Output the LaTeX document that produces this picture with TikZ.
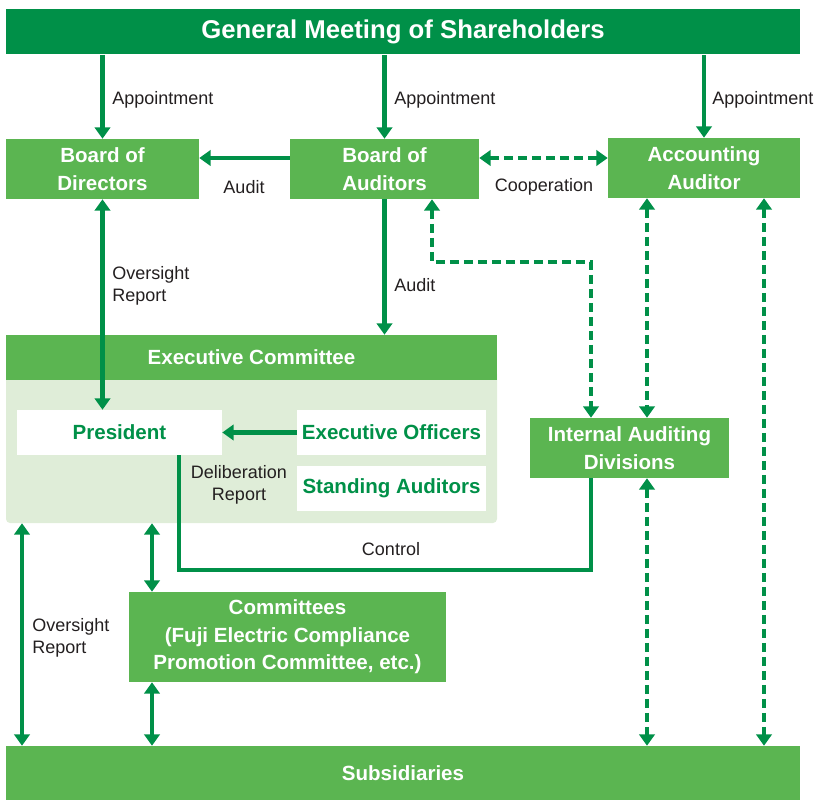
\documentclass[tikz,border=0pt]{standalone}
\usepackage{fontspec}
\setmainfont{Liberation Sans}
\usetikzlibrary{arrows.meta,calc}
\definecolor{dgreen}{RGB}{0,144,72}
\definecolor{lgreen}{RGB}{91,181,81}
\definecolor{pale}{RGB}{223,237,216}
\definecolor{txt}{RGB}{35,31,32}
\begin{document}
\begin{tikzpicture}[x=0.75pt,y=-0.75pt,
  gbox/.style={fill=lgreen,text=white,font=\fontsize{15.4}{20.5}\selectfont\bfseries,align=center,inner sep=0pt},
  wbox/.style={fill=white,text=dgreen,font=\fontsize{15.4}{20.5}\selectfont\bfseries,align=center,inner sep=0pt},
  lbl/.style={text=txt,font=\fontsize{13.5}{16.5}\selectfont,inner sep=0pt},
  ln/.style={draw=dgreen,line width=3.4pt},
  arr/.style={ln,-{Triangle[width=11.5pt,length=8.5pt]}},
  arrtwo/.style={ln,{Triangle[width=11.5pt,length=8.5pt]}-{Triangle[width=11.5pt,length=8.5pt]}},
  darrtwo/.style={arrtwo,dash pattern=on 7pt off 3.5pt}]
\useasboundingbox (0,0) rectangle (818,802);
% nodes
\node[fill=dgreen,text=white,font=\fontsize{19.3}{23}\selectfont\bfseries,minimum width=595.5pt,minimum height=33.75pt,inner sep=0pt] (gm) at (403,32) {General Meeting of Shareholders};
\node[gbox,minimum width=144.75pt,minimum height=45pt] (bod) at (102.5,169) {Board of\\Directors};
\node[gbox,minimum width=141.75pt,minimum height=45pt] (boa) at (384.5,169) {Board of\\Auditors};
\node[gbox,minimum width=144pt,minimum height=45pt] (aa) at (704,168) {Accounting\\Auditor};
\node[fill=pale,rounded corners=3pt,minimum width=368.25pt,minimum height=114.75pt,inner sep=0pt] (ecb) at (251.5,446.5) {};
\node[gbox,minimum width=368.25pt,minimum height=33.75pt] (ech) at (251.5,357.5) {Executive Committee};
\node[wbox,minimum width=153.75pt,minimum height=33.75pt] (pres) at (119.5,432.5) {President};
\node[wbox,minimum width=141.75pt,minimum height=33.75pt] (eo) at (391.5,432.5) {Executive Officers};
\node[wbox,minimum width=141.75pt,minimum height=33.75pt] (sa) at (391.5,488.5) {Standing Auditors};
\node[gbox,minimum width=149.25pt,minimum height=45pt] (iad) at (629.5,448) {Internal Auditing\\Divisions};
\node[gbox,minimum width=237.75pt,minimum height=67.5pt] (com) at (287.5,637) {Committees\\(Fuji Electric Compliance\\Promotion Committee, etc.)};
\node[gbox,minimum width=595.5pt,minimum height=40.5pt] (sub) at (403,773) {Subsidiaries};
% labels
\node[lbl,anchor=west] (l1) at (112,99.5) {Appointment};
\node[lbl,anchor=west] (l2) at (394,99.5) {Appointment};
\node[lbl,anchor=west] (l3) at (712,99.5) {Appointment};
\node[lbl] (l4) at (244,187.5) {Audit};
\node[lbl] (l5) at (544,187) {Cooperation};
\node[lbl,anchor=west,align=left] (l6) at (112,285.5) {Oversight\\Report};
\node[lbl,anchor=west] (l7) at (394,285.5) {Audit};
\node[lbl,align=center] (l8) at (239,484.5) {Deliberation\\Report};
\node[lbl] (l9) at (391,549.5) {Control};
\node[lbl,anchor=west,align=left] (l10) at (32,637.5) {Oversight\\Report};
% helper coordinates
\coordinate (yA) at (0,158);
\coordinate (d1) at (432,262);
\coordinate (d2) at (591,262);
\coordinate (d3) at (647,0);
\coordinate (d4) at (764,0);
\coordinate (c1) at (179,570);
\coordinate (c2) at (591,570);
\coordinate (e1) at (22,0);
\coordinate (e2) at (152,0);
% connectors
\draw[arr] (gm.south -| bod) -- (bod.north);
\draw[arr] (gm.south -| boa) -- (boa.north);
\draw[arr] (gm.south -| aa) -- (aa.north);
\draw[arr] (boa.west |- yA) -- (bod.east |- yA);
\draw[darrtwo] (boa.east |- yA) -- (aa.west |- yA);
\draw[arrtwo] (bod.south) -- (bod.south |- pres.north);
\draw[arr] (boa.south) -- (boa.south |- ech.north);
\draw[darrtwo] (boa.south -| d1) -- (d1) -- (d2) -- (d2 |- iad.north);
\draw[darrtwo] (aa.south -| d3) -- (iad.north -| d3);
\draw[darrtwo] (aa.south -| d4) -- (sub.north -| d4);
\draw[darrtwo] (iad.south -| d3) -- (sub.north -| d3);
\draw[arr] (eo.west) -- (pres.east);
\draw[ln] (pres.south -| c1) -- (c1) -- (c2) -- (iad.south -| c2);
\draw[arrtwo] (ecb.south -| e1) -- (sub.north -| e1);
\draw[arrtwo] (ecb.south -| e2) -- (com.north -| e2);
\draw[arrtwo] (com.south -| e2) -- (sub.north -| e2);
\end{tikzpicture}
\end{document}
